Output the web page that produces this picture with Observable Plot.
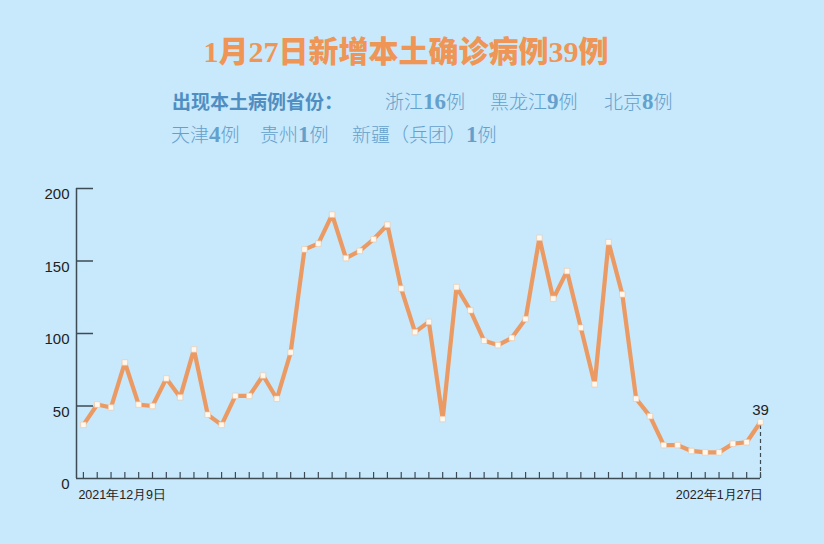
<!DOCTYPE html>
<html><head><meta charset="utf-8">
<script src="https://cdn.jsdelivr.net/npm/d3@7"></script>
<script src="https://cdn.jsdelivr.net/npm/@observablehq/plot@0.6"></script>
<style>
body{margin:0;}
#wrap{position:relative;width:824px;height:544px;background:#c8e8fb;overflow:hidden;font-family:"Noto Sans CJK SC","Noto Sans",sans-serif;}
.t{position:absolute;white-space:nowrap;line-height:1;}
#title{left:0;width:812px;text-align:center;top:37px;font-size:30px;font-weight:900;color:#ef9556;font-family:"Liberation Serif","Noto Sans CJK SC",serif;}
.sub{font-size:19px;color:#64a0cc;font-weight:300;}
.sub b{font-family:"Liberation Serif",serif;font-weight:bold;font-size:23px;}
.lab{font-size:19px;color:#4f8ec2;font-weight:bold;}
#chart{position:absolute;left:0;top:170px;}
</style></head>
<body><div id="wrap">
<div id="title" class="t"></div>
<div id="chart"></div>
</div>
<script>
const titleText = "1月27日新增本土确诊病例39例";
const provinceLabel = "出现本土病例省份：";
const provinces = ["浙江", "黑龙江", "北京", "天津", "贵州", "新疆（兵团）"];
const provinceCases = [16, 9, 8, 4, 1, 1];
const dates = ["2021-12-09","2021-12-10","2021-12-11","2021-12-12","2021-12-13","2021-12-14","2021-12-15","2021-12-16","2021-12-17","2021-12-18",
"2021-12-19","2021-12-20","2021-12-21","2021-12-22","2021-12-23","2021-12-24","2021-12-25","2021-12-26","2021-12-27","2021-12-28",
"2021-12-29","2021-12-30","2021-12-31","2022-01-01","2022-01-02","2022-01-03","2022-01-04","2022-01-05","2022-01-06","2022-01-07",
"2022-01-08","2022-01-09","2022-01-10","2022-01-11","2022-01-12","2022-01-13","2022-01-14","2022-01-15","2022-01-16","2022-01-17",
"2022-01-18","2022-01-19","2022-01-20","2022-01-21","2022-01-22","2022-01-23","2022-01-24","2022-01-25","2022-01-26","2022-01-27"];
const cases = [37,51,49,80,51,50,69,56,89,44,37,57,57,71,55,87,158,162,182,152,157,165,175,131,101,108,41,132,116,95,92,97,110,166,124,143,104,65,163,127,55,43,23,23,19,18,18,24,25,39];
const yTicks = [0, 50, 100, 150, 200];
const xLabels = ["2021年12月9日", "2022年1月27日"];

// header
document.getElementById("title").textContent = titleText;
const wrap = document.getElementById("wrap");
function addText(cls, html, left, top){
  const d = document.createElement("div");
  d.className = "t " + cls; d.innerHTML = html;
  d.style.left = left + "px"; d.style.top = top + "px";
  wrap.appendChild(d);
}
addText("lab", provinceLabel, 172, 91);
const pos = [[385,90],[490,90],[604,90],[171,123],[260,123],[352,123]];
provinces.forEach((p,i)=> addText("sub", `${p}<b>${provinceCases[i]}</b>例`, pos[i][0], pos[i][1]));

// chart
const data = dates.map((d,i)=>({date: new Date(d + "T00:00:00Z"), value: cases[i]}));
const xStart = new Date(Date.UTC(2021,11,8,12));
const last = data[data.length-1];
const W = 824, H = 340, mt = 18, mb = 32, ml = 76, mr = 64;
const axisColor = "#3d4b55";
const chart = Plot.plot({
  width: W, height: H, marginTop: mt, marginBottom: mb, marginLeft: ml, marginRight: mr,
  style: {background: "transparent", fontFamily: "'Liberation Sans', Arial, sans-serif"},
  x: {type: "utc", domain: [xStart, last.date], axis: null},
  y: {domain: [0, 200], axis: null},
  marks: [
    Plot.axisY(yTicks, {tickSize: 0, tickPadding: 7, dy: 6, fontSize: 15, fill: "#222", anchor: "left", label: null}),
    Plot.ruleY(yTicks.filter(d=>d>0), {y: d=>d, stroke: axisColor, strokeWidth: 1.5, insetRight: (W-ml-mr) - 17}),
    Plot.ruleX(data, {x: "date", stroke: axisColor, strokeWidth: 1.2, insetTop: (H-mt-mb) - 6}),
    Plot.ruleX([xStart], {y1: 0, y2: 200, stroke: axisColor, strokeWidth: 1.5}),
    Plot.ruleY([0], {x1: xStart, x2: last.date, stroke: axisColor, strokeWidth: 1.5}),
    Plot.ruleX([last], {x: "date", y1: 0, y2: "value", stroke: axisColor, strokeWidth: 1.2, strokeDasharray: "4,3"}),
    Plot.line(data, {x: "date", y: "value", stroke: "#eb9a63", strokeWidth: 4.2, curve: "linear"}),
    Plot.dot(data, {x: "date", y: "value", symbol: "square", r: 3.1, fill: "#fff8ee", stroke: "#f0c4a2", strokeWidth: 0.6}),
    Plot.text([last], {x: "date", y: "value", text: d => String(d.value), dy: -12, fontSize: 15, fill: "#222"}),
    Plot.text([data[0]], {x: "date", y: 0, text: () => xLabels[0], textAnchor: "start", dx: -5, dy: 16, fontSize: 12.5, fill: "#222"}),
    Plot.text([last], {x: "date", y: 0, text: () => xLabels[1], textAnchor: "end", dx: 3, dy: 16, fontSize: 12.5, fill: "#222"})
  ]
});
document.getElementById("chart").appendChild(chart);
</script>
</body></html>
